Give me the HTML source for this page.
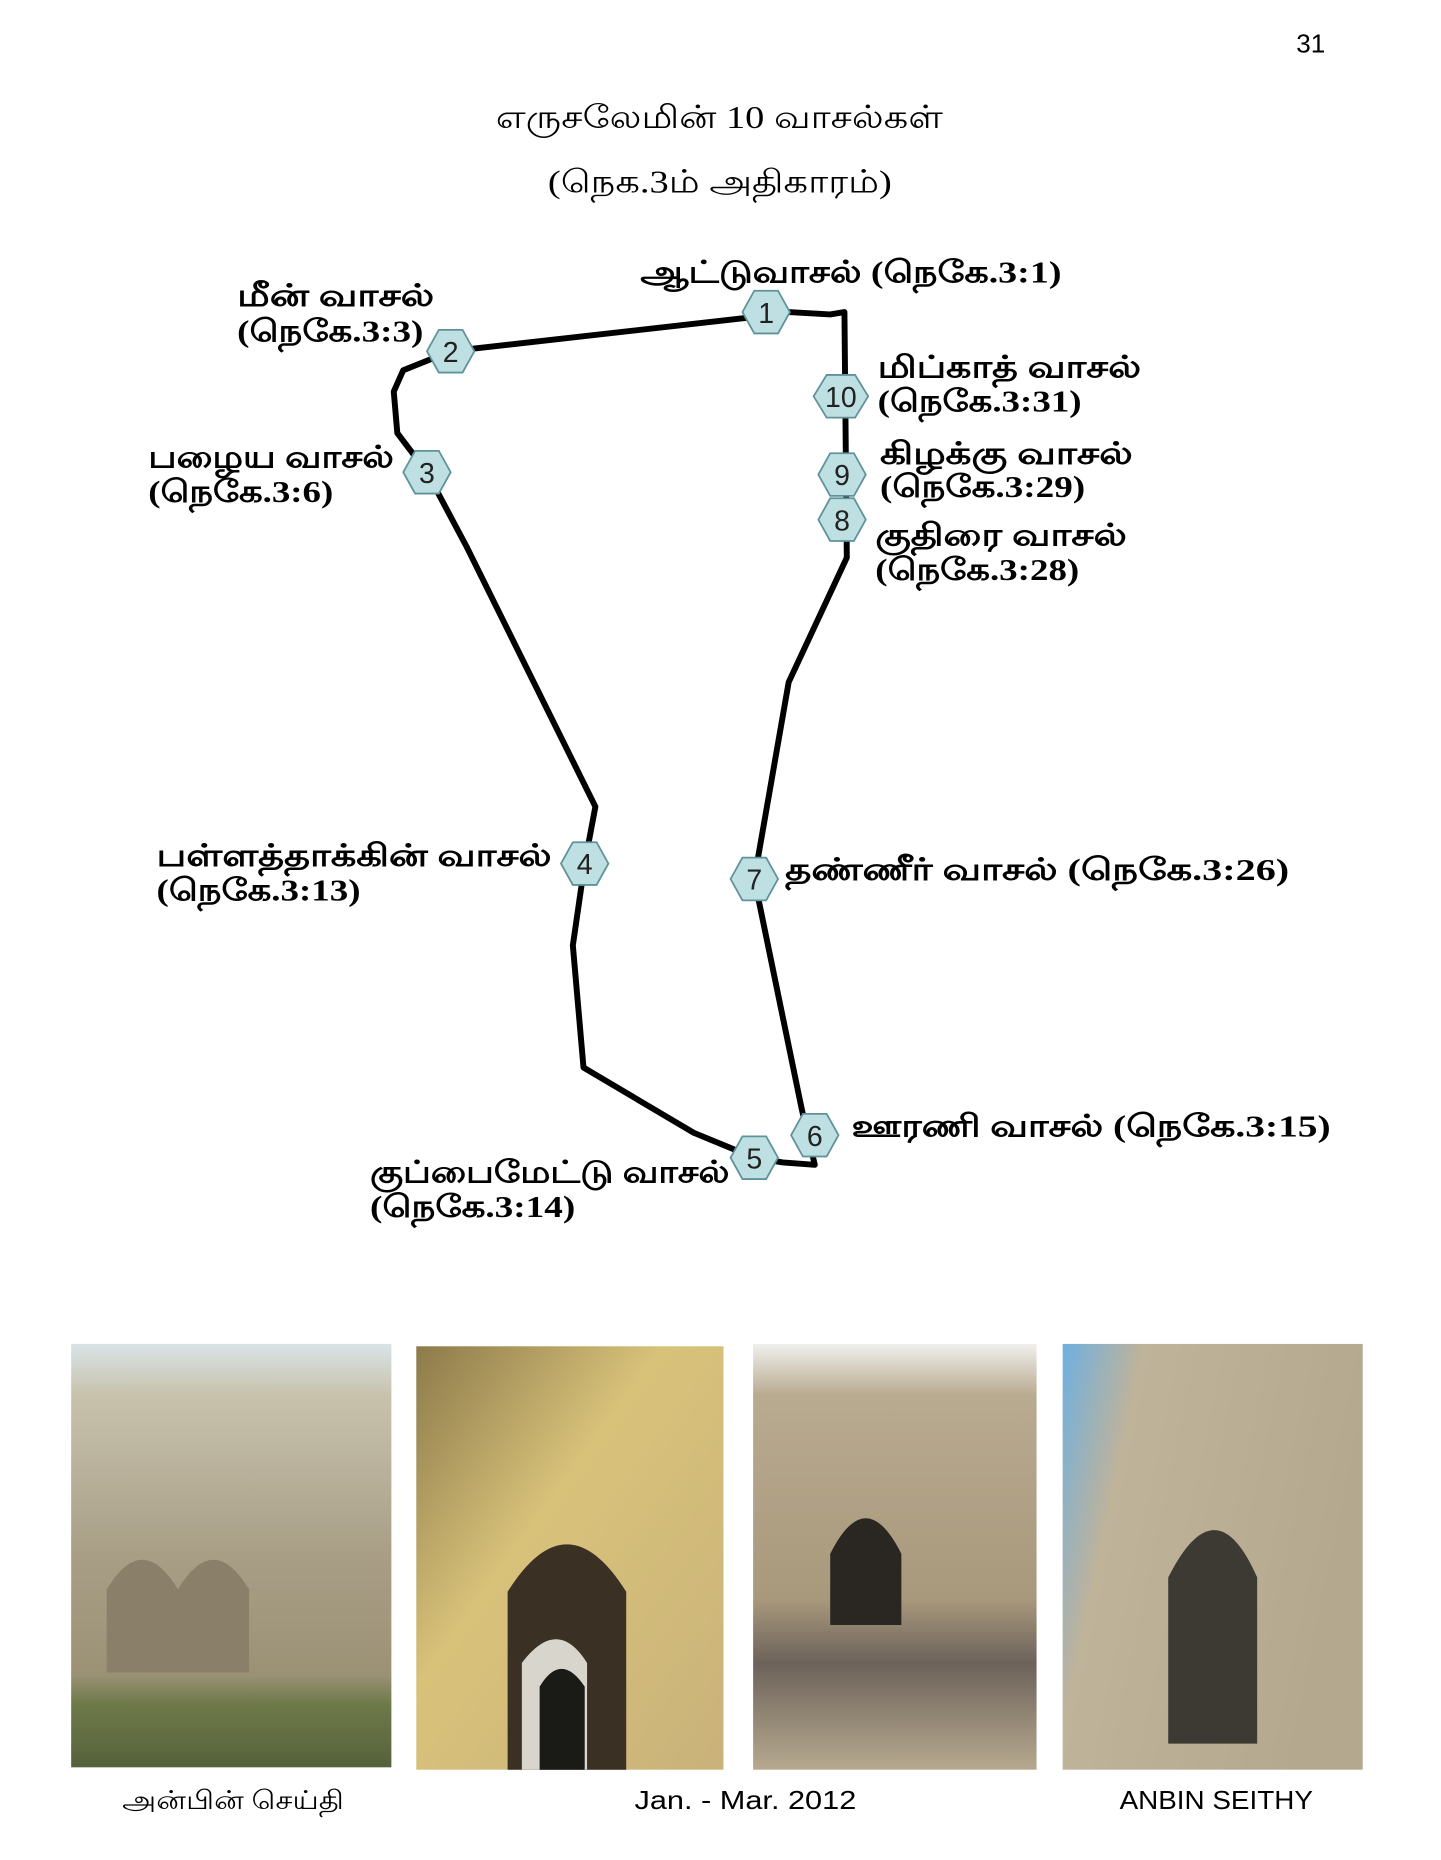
<!DOCTYPE html>
<html><head><meta charset="utf-8"><style>
html,body{margin:0;padding:0;background:#fff;}
svg{display:block;}
.t{font-family:"Liberation Serif","DejaVu Serif",serif;font-weight:bold;font-size:26px;fill:#000;}
.h{font-family:"Liberation Serif","DejaVu Serif",serif;font-size:27px;fill:#000;}
.n{font-family:"Liberation Sans","DejaVu Sans",sans-serif;font-size:24px;fill:#222;text-anchor:middle;}
.f{font-family:"Liberation Sans","DejaVu Sans",sans-serif;font-size:22px;fill:#000;}
</style></head><body>
<svg width="1441" height="1860" viewBox="0 0 1215 1568" xmlns="http://www.w3.org/2000/svg">
<defs>
<polygon id="hx" points="-20,0 -10,-18 10,-18 20,0 10,18 -10,18" fill="#bfe0e3" stroke="#5f9299" stroke-width="1.5"/>
<linearGradient id="p1" x1="0" y1="0" x2="0" y2="1"><stop offset="0" stop-color="#d9e4e6"/><stop offset="0.12" stop-color="#c8c2ad"/><stop offset="0.5" stop-color="#a89e86"/><stop offset="0.78" stop-color="#9b9276"/><stop offset="0.85" stop-color="#6f7a4a"/><stop offset="1" stop-color="#55613a"/></linearGradient>
<linearGradient id="p2" x1="0" y1="0" x2="1" y2="1"><stop offset="0" stop-color="#8c7a4a"/><stop offset="0.4" stop-color="#d8c27a"/><stop offset="1" stop-color="#c9b27a"/></linearGradient>
<linearGradient id="p3" x1="0" y1="0" x2="0" y2="1"><stop offset="0" stop-color="#f0f0ee"/><stop offset="0.12" stop-color="#b9ab90"/><stop offset="0.6" stop-color="#a8987c"/><stop offset="0.75" stop-color="#6c625a"/><stop offset="1" stop-color="#b7a98f"/></linearGradient>
<linearGradient id="p4" x1="0" y1="0" x2="1" y2="0.3"><stop offset="0" stop-color="#6fb0e0"/><stop offset="0.25" stop-color="#bfb39a"/><stop offset="1" stop-color="#b4a88e"/></linearGradient>
</defs>
<text x="1093" y="44" class="f">31</text>
<text x="418" y="108" class="h" textLength="377" lengthAdjust="spacingAndGlyphs">எருசலேமின் 10 வாசல்கள்</text>
<text x="462" y="162" class="h" textLength="290" lengthAdjust="spacingAndGlyphs">(நெக.3ம் அதிகாரம்)</text>

<path d="M380,296 L646,266 L665,263 L700,265 L712,263 L714,470 L665,575 L636,741 L676,935 L687,982 L660,980 L636,976 L585,955 L492,900 L483,797 L493,728 L502,680 L393,460 L360,398 L335,365 L332,330 L340,312 L380,296 Z" fill="none" stroke="#000" stroke-width="5" stroke-linejoin="round"/>

<use href="#hx" x="646" y="263"/><text x="646" y="272" class="n">1</text>
<use href="#hx" x="380" y="296"/><text x="380" y="305" class="n">2</text>
<use href="#hx" x="360" y="398"/><text x="360" y="407" class="n">3</text>
<use href="#hx" x="493" y="728"/><text x="493" y="737" class="n">4</text>
<use href="#hx" x="636" y="976"/><text x="636" y="985" class="n">5</text>
<use href="#hx" x="687" y="957"/><text x="687" y="966" class="n">6</text>
<use href="#hx" x="636" y="741"/><text x="636" y="750" class="n">7</text>
<use href="#hx" x="710" y="438"/><text x="710" y="447" class="n">8</text>
<use href="#hx" x="710" y="400"/><text x="710" y="409" class="n">9</text>
<polygon points="686,334 697,316 721,316 732,334 721,352 697,352" fill="#bfe0e3" stroke="#5f9299" stroke-width="1.5"/><text x="709" y="343" class="n">10</text>

<text x="540" y="238" class="t" textLength="355" lengthAdjust="spacingAndGlyphs">ஆட்டுவாசல் (நெகே.3:1)</text>
<text x="200" y="258" class="t" textLength="166" lengthAdjust="spacingAndGlyphs">மீன் வாசல்</text>
<text x="200" y="288" class="t" textLength="157" lengthAdjust="spacingAndGlyphs">(நெகே.3:3)</text>
<text x="740" y="318" class="t" textLength="222" lengthAdjust="spacingAndGlyphs">மிப்காத் வாசல்</text>
<text x="740" y="347" class="t" textLength="172" lengthAdjust="spacingAndGlyphs">(நெகே.3:31)</text>
<text x="125" y="394" class="t" textLength="207" lengthAdjust="spacingAndGlyphs">பழைய வாசல்</text>
<text x="125" y="423" class="t" textLength="156" lengthAdjust="spacingAndGlyphs">(நெகே.3:6)</text>
<text x="742" y="391" class="t" textLength="213" lengthAdjust="spacingAndGlyphs">கிழக்கு வாசல்</text>
<text x="742" y="419" class="t" textLength="173" lengthAdjust="spacingAndGlyphs">(நெகே.3:29)</text>
<text x="738" y="460" class="t" textLength="212" lengthAdjust="spacingAndGlyphs">குதிரை வாசல்</text>
<text x="738" y="489" class="t" textLength="172" lengthAdjust="spacingAndGlyphs">(நெகே.3:28)</text>
<text x="132" y="730" class="t" textLength="333" lengthAdjust="spacingAndGlyphs">பள்ளத்தாக்கின் வாசல்</text>
<text x="132" y="759" class="t" textLength="172" lengthAdjust="spacingAndGlyphs">(நெகே.3:13)</text>
<text x="662" y="742" class="t" textLength="425" lengthAdjust="spacingAndGlyphs">தண்ணீர் வாசல் (நெகே.3:26)</text>
<text x="718" y="958" class="t" textLength="404" lengthAdjust="spacingAndGlyphs">ஊரணி வாசல் (நெகே.3:15)</text>
<text x="312" y="997" class="t" textLength="303" lengthAdjust="spacingAndGlyphs">குப்பைமேட்டு வாசல்</text>
<text x="312" y="1026" class="t" textLength="173" lengthAdjust="spacingAndGlyphs">(நெகே.3:14)</text>

<rect x="60" y="1133" width="270" height="357" fill="url(#p1)"/>
<path d="M90,1340 q30,-50 60,0 q30,-50 60,0 v70 h-120z" fill="#8a806a"/>
<rect x="351" y="1135" width="259" height="357" fill="url(#p2)"/>
<path d="M428,1492 v-150 q50,-80 100,0 v150z" fill="#3a3024"/>
<path d="M440,1492 v-90 q30,-40 55,0 v90z" fill="#d8d6cc"/>
<path d="M455,1492 v-70 q18,-30 38,0 v70z" fill="#1a1a16"/>
<rect x="635" y="1133" width="239" height="359" fill="url(#p3)"/>
<path d="M700,1370 v-60 q30,-60 60,0 v60z" fill="#2a2622"/>
<rect x="896" y="1133" width="253" height="359" fill="url(#p4)"/>
<path d="M985,1470 v-140 q40,-80 75,0 v140z" fill="#3d3a34"/>

<text x="103" y="1525" class="f" style="font-family:'Liberation Serif',serif" textLength="187" lengthAdjust="spacingAndGlyphs">அன்பின் செய்தி</text>
<text x="535" y="1525" class="f" textLength="187" lengthAdjust="spacingAndGlyphs">Jan. - Mar. 2012</text>
<text x="944" y="1525" class="f" textLength="163" lengthAdjust="spacingAndGlyphs">ANBIN SEITHY</text>
</svg>
</body></html>
